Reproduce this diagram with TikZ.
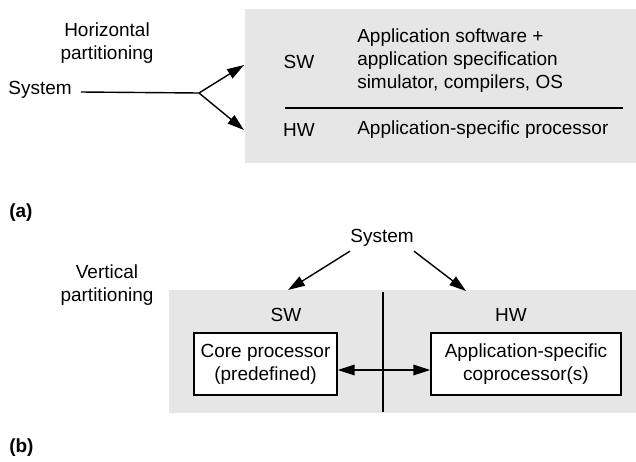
\documentclass[tikz,border=0pt]{standalone}
\usepackage{fontspec}
\setmainfont{Liberation Sans}
\usepackage{tikz}
\usetikzlibrary{arrows.meta,positioning}
\definecolor{panelgray}{RGB}{230,230,230}
\tikzstyle{line}=[draw,line width=1pt]
\tikzstyle{arrow}=[line width=1pt,-{Triangle[length=12pt,width=7.5pt]}]
\tikzstyle{dblarrow}=[line width=1pt,{Triangle[length=12pt,width=7.5pt]}-{Triangle[length=12pt,width=7.5pt]}]
\tikzstyle{panel}=[fill=panelgray]
\tikzstyle{unit}=[draw,line width=1pt,fill=white,align=center,minimum height=1.55cm,inner sep=0pt]

\begin{document}
\begin{tikzpicture}[x=0.025cm,y=-0.025cm,font=\fontsize{13.5}{16.3}\selectfont]
\useasboundingbox (0,0) rectangle (636,461);
% (a) horizontal partitioning
\fill[panel] (245,9) rectangle (636,163);
\node[align=center](hpart) at (107,43){Horizontal\\partitioning};
\node[inner sep=0pt](sysa) at (40,90){System};
\coordinate (split) at (199,93);
\coordinate (swin) at (244,65);
\coordinate (hwin) at (244,130);
\draw [line] ([xshift=0.225cm,yshift=-0.05cm]sysa.east)--(split);
\draw [arrow] (split)--(swin);
\draw [arrow] (split)--(hwin);
\node[](swa) at (299,62){SW};
\node[anchor=west,align=left,inner sep=0pt](swtext) at (357,61){Application software +\\application specification\\simulator, compilers, OS};
\draw [line] (285,108)--(623,108);
\node[](hwa) at (299,130){HW};
\node[anchor=west,inner sep=0pt](hwtext) at (357,130){Application-specific processor};
\node[anchor=west,inner sep=0pt](taga) at (9,213){\textbf{(a)}};
% (b) vertical partitioning
\fill[panel] (169,290) rectangle (636,413);
\node[inner xsep=0pt,inner ysep=3pt](sysb) at (382,238){System};
\coordinate (swtop) at (288,290);
\coordinate (hwtop) at (466,291);
\draw [arrow] (sysb.south west)--(swtop);
\draw [arrow] (sysb.south east)--(hwtop);
\draw [line] (383,292)--(383,412);
\node[align=center](vpart) at (107,285){Vertical\\partitioning};
\node[](swb) at (286,315){SW};
\node[](hwb) at (511,315){HW};
\node[unit,minimum width=3.575cm](core) at (265.5,364){Core processor\\(predefined)};
\node[unit,minimum width=4.75cm](cop) at (526,364){Application-specific\\coprocessor(s)};
\draw [dblarrow] ([yshift=-0.15cm]core.east)--([yshift=-0.15cm]cop.west);
\node[anchor=west,inner sep=0pt](tagb) at (9,448){\textbf{(b)}};
\end{tikzpicture}
\end{document}
